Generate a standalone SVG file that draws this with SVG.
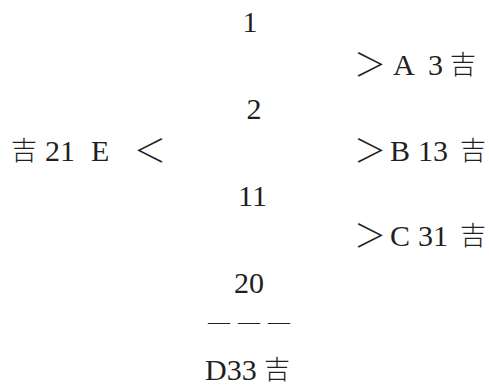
<svg xmlns="http://www.w3.org/2000/svg" width="489" height="385" viewBox="0 0 489 385">
<style>
.t{font-family:"Liberation Serif","Noto Sans CJK SC",serif;font-size:30px;fill:#231f20}
.d{font-family:"Liberation Serif",serif;font-size:22px;fill:#231f20;letter-spacing:8px}
.c{font-family:"Noto Sans CJK SC","Noto Sans CJK JP",sans-serif;font-size:26px;fill:#231f20;font-weight:300}
.g{font-family:"Noto Sans CJK SC","Noto Sans CJK JP",sans-serif;font-size:32px;fill:#231f20;font-weight:200}
</style>
<rect width="489" height="385" fill="#fff"/>
<g id="n1"><text class="t" x="250" y="32" text-anchor="middle">1</text></g>
<g id="nA"><text class="g" x="354" y="76">＞</text><text class="t" x="393" y="75">A</text><text class="t" x="428" y="75">3</text><text class="c" x="450" y="74">吉</text></g>
<g id="n2"><text class="t" x="254" y="119" text-anchor="middle">2</text></g>
<g id="nE"><text class="c" x="11" y="160">吉</text><text class="t" x="45" y="161">21</text><text class="t" x="91" y="161">E</text><text class="g" x="134" y="162">＜</text></g>
<g id="nB"><text class="g" x="354" y="162">＞</text><text class="t" x="390" y="161">B</text><text class="t" x="418" y="161">13</text><text class="c" x="460" y="160">吉</text></g>
<g id="n11"><text class="t" x="252.5" y="206" text-anchor="middle">11</text></g>
<g id="nC"><text class="g" x="354" y="247">＞</text><text class="t" x="390" y="246">C</text><text class="t" x="418" y="246">31</text><text class="c" x="460" y="245">吉</text></g>
<g id="n20"><text class="t" x="249" y="293" text-anchor="middle">20</text></g>
<g id="connectors"><text class="d" x="208" y="329">———</text></g>
<g id="nD"><text class="t" x="205" y="380">D33</text><text class="c" x="264" y="379">吉</text></g>
</svg>
